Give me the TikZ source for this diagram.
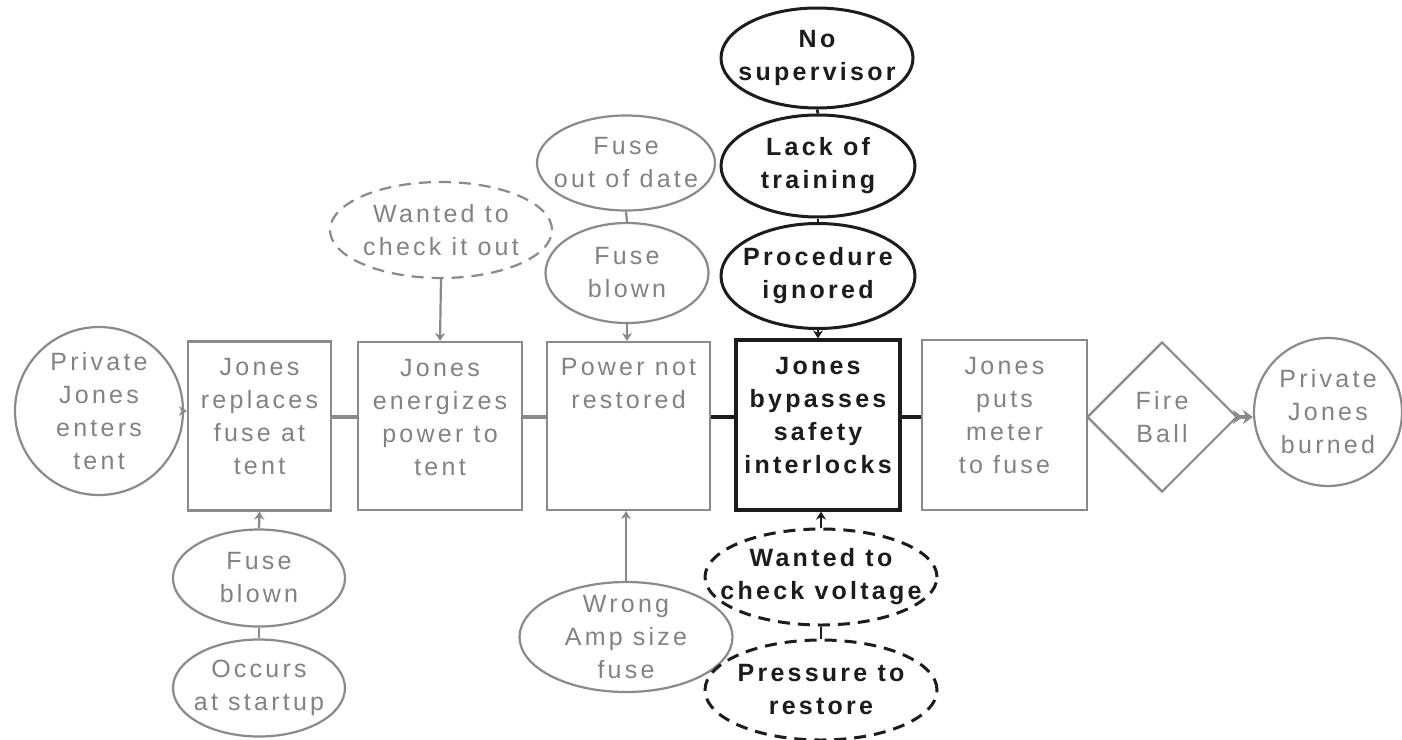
\documentclass[tikz,border=0pt]{standalone}
\usepackage{fontspec}
\setmainfont{Liberation Sans}[LetterSpace=13]
\usetikzlibrary{shapes.geometric,arrows.meta}
\definecolor{lg}{RGB}{138,138,138}
\definecolor{lgt}{RGB}{130,130,130}
\definecolor{dk}{RGB}{28,28,28}
\begin{document}
\begin{tikzpicture}[x=0.5pt,y=-0.5pt,
  every node/.style={font=\fontsize{12.5}{16.5}\selectfont, align=center, inner sep=0pt},
  gbox/.style={draw=lg, line width=1.1pt, text=lgt, rectangle},
  kbox/.style={draw=dk, line width=1.6pt, text=dk, rectangle, font=\fontsize{12.5}{16.5}\selectfont\bfseries},
  gtxt/.style={text=lgt},
  ktxt/.style={text=dk, font=\fontsize{12.5}{16.5}\selectfont\bfseries},
  gell/.style={draw=lg, line width=1.1pt, text=lgt, ellipse, inner sep=-40pt},
  kell/.style={draw=dk, line width=1.5pt, text=dk, ellipse, inner sep=-40pt, font=\fontsize{12.5}{16.5}\selectfont\bfseries},
  dashpat/.style={dash pattern=on 6pt off 4pt},
  gline/.style={draw=lg, line width=1.1pt},
  kline/.style={draw=dk, line width=1.4pt},
  gthick/.style={draw=lg, line width=2pt},
  kthick/.style={draw=dk, line width=2.2pt},
  gtip/.style={-{Stealth[length=4pt,width=5pt]}},
]
\fill[white] (0,0) rectangle (1402,739);
\useasboundingbox (0,0) rectangle (1402,739);

% main chain of events
\node[gell, circle, minimum size=84pt] (pjin) at (99,411) {Private\\Jones\\enters\\tent};
\node[gbox, minimum width=71.5pt, minimum height=84.5pt] (b1) at (259.5,426) {};
\node[gtxt] (b1t) at ([yshift=4.5pt]b1.center) {Jones\\replaces\\fuse at\\tent};
\node[gbox, minimum width=82pt, minimum height=84pt] (b2) at (440,426) {};
\node[gtxt] (b2t) at ([yshift=4pt]b2.center) {Jones\\energizes\\power to\\tent};
\node[gbox, minimum width=81.5pt, minimum height=84pt] (b3) at (628.5,426) {};
\node[gtxt, anchor=north] (b3t) at ([yshift=-8.5pt]b3.north) {Power not\\restored};
\node[kbox, minimum width=82pt, minimum height=85pt] (b4) at (818,425) {};
\node[ktxt] (b4t) at ([yshift=4.5pt]b4.center) {Jones\\bypasses\\safety\\interlocks};
\node[gbox, minimum width=82.5pt, minimum height=85pt] (b5) at (1004.5,425) {};
\node[gtxt] (b5t) at ([yshift=4.5pt]b5.center) {Jones\\puts\\meter\\to fuse};
\node[gell, diamond, aspect=1, minimum width=75pt, minimum height=75pt] (fb) at (1162,417) {Fire\\Ball};
\node[gell, circle, minimum size=74pt] (pjout) at (1328,412) {Private\\Jones\\burned};

% causes above the chain
\node[gell, dashpat, minimum width=111pt, minimum height=48pt] (wc) at (441,230) {Wanted to\\check it out};
\node[gell, minimum width=89pt, minimum height=47.5pt] (fd) at (626,163) {Fuse\\out of date};
\node[gell, minimum width=81.5pt, minimum height=50pt] (fbt) at (627,273) {Fuse\\blown};
\node[kell, minimum width=96pt, minimum height=50pt] (ns) at (817,58) {No\\supervisor};
\node[kell, minimum width=97pt, minimum height=51pt] (lt) at (818,166) {Lack of\\training};
\node[kell, minimum width=97pt, minimum height=52.5pt] (pi) at (818,276) {Procedure\\ignored};

% causes below the chain
\node[gell, minimum width=86pt, minimum height=48.5pt] (fbb) at (259,578) {Fuse\\blown};
\node[gell, minimum width=86pt, minimum height=48.5pt] (oc) at (259,688) {Occurs\\at startup};
\node[gell, minimum width=106.5pt, minimum height=55pt] (wa) at (626,637) {Wrong\\Amp size\\fuse};
\node[kell, dashpat, minimum width=116pt, minimum height=48pt] (wv) at (821,577) {Wanted to\\check voltage};
\node[kell, dashpat, minimum width=116pt, minimum height=50pt] (pr) at (821,690) {Pressure to\\restore};

% links of the chain
\draw[gline, gtip] (pjin.east) -- (pjin.east -| b1.west);
\draw[gthick] ([yshift=4.5pt]b1.east) -- ([yshift=4.5pt]b2.west);
\draw[gthick] ([yshift=4.5pt]b2.east) -- ([yshift=4.5pt]b3.west);
\draw[kthick] ([yshift=4.5pt]b3.east) -- ([yshift=4pt]b4.west);
\draw[kthick] ([yshift=4pt]b4.east) -- ([yshift=4pt]b5.west);
\draw[gline] (fb.west -| b5.east) -- (fb.west);
\draw[gthick, -{Stealth[length=5pt,width=7pt] Stealth[length=5pt,width=7pt]}] (fb.east) -- (fb.east -| pjout.west);

% links from the causes
\draw[gline, gtip] (wc.south) -- (b2.north);
\draw[gline] (fd.south) -- (fbt.north);
\draw[gline, gtip] (fbt.south) -- (fbt.south |- b3.north);
\draw[kline] (ns.south) -- (lt.north);
\draw[kline] (lt.south) -- (pi.north);
\draw[kline, gtip] (pi.south) -- (b4.north);
\draw[gline] (oc.north) -- (fbb.south);
\draw[gline, gtip] (fbb.north) -- (b1.south);
\draw[gline, gtip] (wa.north) -- (wa.north |- b3.south);
\draw[kline, gtip] (wv.north) -- (wv.north |- b4.south);
\draw[kline, dashpat] (pr.north) -- (wv.south);
\end{tikzpicture}
\end{document}
